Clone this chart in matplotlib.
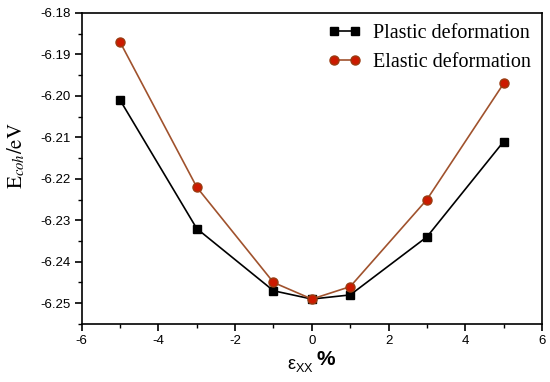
import matplotlib
matplotlib.use('Agg')
import matplotlib.pyplot as plt
from matplotlib.ticker import MultipleLocator

plt.rcParams['axes.unicode_minus'] = False
plt.rcParams['mathtext.fontset'] = 'stix'

# strain values (%) and cohesive energies (eV)
strain = [-5, -3, -1, 0, 1, 3, 5]
plastic = [-6.201, -6.232, -6.247, -6.249, -6.248, -6.234, -6.211]
elastic = [-6.187, -6.222, -6.245, -6.249, -6.246, -6.225, -6.197]

fig = plt.figure(figsize=(5.5, 3.82), dpi=100)
ax = fig.add_axes([0.1485, 0.152, 0.837, 0.814])

ax.plot(strain, plastic, color='black', lw=1.2, marker='s', ms=6,
        mfc='black', mec='black', label='Plastic deformation')
ax.plot(strain, elastic, color='#a0522d', lw=1.2, marker='o', ms=6.5,
        mfc='#cc1a00', mec='#9a3b10', label='Elastic deformation')

ax.set_xlim(-6, 6)
ax.set_ylim(-6.255, -6.18)
ax.xaxis.set_major_locator(MultipleLocator(2))
ax.xaxis.set_minor_locator(MultipleLocator(1))
ax.yaxis.set_major_locator(MultipleLocator(0.01))
ax.yaxis.set_minor_locator(MultipleLocator(0.005))
ax.yaxis.set_major_formatter(plt.FormatStrFormatter('%.2f'))
ax.tick_params(which='major', direction='out', length=5, width=1.2, pad=3)
ax.tick_params(which='minor', direction='out', length=3, width=1)
for lab in ax.get_xticklabels() + ax.get_yticklabels():
    lab.set_fontfamily('Liberation Sans')
    lab.set_fontsize(9.5)
for s in ax.spines.values():
    s.set_linewidth(1.2)

ax.set_ylabel(r'$\mathrm{E}_{coh}\mathrm{/eV}$', fontsize=15)
ax.yaxis.set_label_coords(-0.118, 0.54)
ax.set_xlabel(r'$\mathregular{ε_{XX}}$', fontsize=13, family='Liberation Sans')
ax.xaxis.set_label_coords(0.474, -0.105)
ax.annotate('%', xy=(1, 0.25), xycoords=ax.xaxis.label, xytext=(2, 0),
            textcoords='offset points', ha='left', va='bottom',
            fontsize=15, fontweight='bold', family='Liberation Sans')

ax.legend(loc='upper right', frameon=False, prop={'family': 'Liberation Serif', 'size': 14.5},
          numpoints=2, handlelength=1.65, borderaxespad=0.25, labelspacing=0.5,
          handletextpad=0.6, borderpad=0.3)

fig.savefig('out.png', dpi=100)
